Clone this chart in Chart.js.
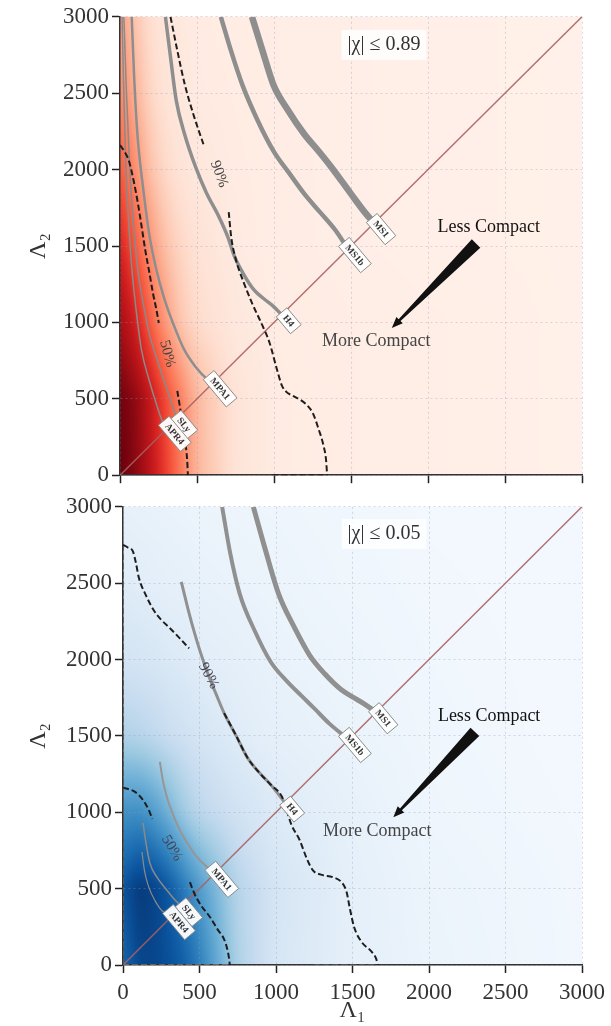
<!DOCTYPE html>
<html>
<head>
<meta charset="utf-8">
<script src="https://cdn.jsdelivr.net/npm/chart.js@4.4.1/dist/chart.umd.min.js"></script>
<style>
  body { margin: 0; background: #fff; width: 611px; height: 1026px; overflow: hidden; }
  .panel { position: absolute; left: 0; width: 611px; }
  #top { top: 0; height: 492px; }
  #bot { top: 490px; height: 536px; }
</style>
</head>
<body>
<div class="panel" id="top"><canvas id="chartHigh"></canvas></div>
<div class="panel" id="bot"><canvas id="chartLow"></canvas></div>
<script>
// axis ticks
const tickValues = [0, 500, 1000, 1500, 2000, 2500, 3000];

// posterior density grid (Lambda1 columns, Lambda2 rows)
const gridL1 = [0, 100, 200, 300, 400, 500, 750, 1000, 1500, 2000, 3000];
const gridL2 = [0, 500, 1000, 1500, 2000, 2500, 3000];
const densityHigh = [
  [1.00, 0.94, 0.80, 0.62, 0.44, 0.26, 0.10, 0.06, 0.045, 0.04, 0.03],
  [0.98, 0.93, 0.77, 0.58, 0.42, 0.25, 0.10, 0.06, 0.045, 0.04, 0.03],
  [0.88, 0.73, 0.52, 0.34, 0.20, 0.14, 0.08, 0.055, 0.045, 0.04, 0.03],
  [0.72, 0.54, 0.36, 0.22, 0.15, 0.11, 0.065, 0.05, 0.04, 0.035, 0.03],
  [0.56, 0.38, 0.22, 0.14, 0.10, 0.08, 0.06, 0.05, 0.04, 0.035, 0.03],
  [0.42, 0.27, 0.15, 0.10, 0.08, 0.065, 0.055, 0.045, 0.04, 0.035, 0.03],
  [0.34, 0.21, 0.12, 0.09, 0.07, 0.06, 0.05, 0.045, 0.04, 0.035, 0.03]
];
const densityLow = [
  [0.78, 0.92, 0.92, 0.88, 0.82, 0.70, 0.32, 0.16, 0.09, 0.06, 0.03],
  [0.85, 0.97, 0.93, 0.85, 0.72, 0.58, 0.30, 0.17, 0.09, 0.055, 0.03],
  [0.62, 0.64, 0.58, 0.48, 0.36, 0.28, 0.19, 0.13, 0.08, 0.045, 0.025],
  [0.32, 0.30, 0.27, 0.23, 0.20, 0.17, 0.12, 0.09, 0.06, 0.04, 0.02],
  [0.18, 0.17, 0.16, 0.14, 0.13, 0.11, 0.09, 0.07, 0.05, 0.035, 0.02],
  [0.12, 0.11, 0.10, 0.09, 0.085, 0.075, 0.065, 0.055, 0.04, 0.03, 0.02],
  [0.08, 0.075, 0.07, 0.065, 0.06, 0.055, 0.05, 0.045, 0.035, 0.025, 0.02]
];

// equal-mass line
const diagonal = [[0, 0], [3000, 3000]];

// EOS curves, high spin prior
const ms1High = [[857,3000],[925,2780],[996,2556],[1090,2390],[1197,2231],[1290,2120],[1374,2014],[1500,1841],[1590,1720],[1650,1650]];
const ms1bHigh = [[655,3000],[720,2780],[794,2556],[890,2330],[996,2123],[1100,1975],[1197,1841],[1300,1720],[1399,1603],[1480,1480]];
const h4High = [[295,3000],[330,2720],[366,2448],[420,2230],[492,2014],[560,1850],[643,1690],[700,1560],[744,1430],[800,1320],[870,1213],[940,1150],[996,1105],[1050,1050]];
const mpa1High = [[76,3000],[92,2600],[113,2231],[150,1880],[189,1581],[235,1350],[290,1148],[350,980],[416,823],[490,710],[567,628],[605,605]];
const slyHigh = [[25,3000],[42,2500],[63,2014],[85,1680],[113,1365],[150,1130],[189,931],[240,760],[290,606],[335,470],[370,370]];
const apr4High = [[13,3000],[25,2500],[38,2014],[55,1680],[76,1365],[105,1080],[139,823],[190,620],[240,455],[285,330],[310,310]];

// credible contours, high spin prior
const c90HighA = [[328,3000],[372,2780],[420,2560],[480,2350],[542,2166]];
const c90HighB = [[706,1722],[722,1560],[750,1420],[800,1270],[860,1120],[920,990],[970,870],[1017,700],[1050,590],[1080,545],[1124,519],[1212,461],[1255,400],[1290,300],[1320,200],[1338,100],[1345,0]];
const c90HighAxis = [[990,0],[1345,0]];
const c50HighA = [[0,2160],[28,2120],[60,2050],[90,1920],[113,1798],[140,1630],[164,1473],[190,1330],[214,1191],[235,1090],[252,996]];
const c50HighB = [[372,552],[392,430],[410,320],[426,200],[436,100],[441,0]];

// EOS curves, low spin prior
const ms1Low = [[852,3000],[930,2720],[1017,2430],[1120,2210],[1220,2028],[1320,1905],[1423,1805],[1500,1755],[1576,1710],[1655,1655]];
const ms1bLow = [[648,3000],[700,2700],[763,2430],[860,2190],[966,1984],[1069,1860],[1169,1760],[1260,1670],[1347,1582],[1470,1480]];
const h4Low = [[381,2509],[420,2350],[458,2207],[505,2050],[559,1895],[610,1770],[661,1649],[740,1500],[813,1358],[890,1260],[966,1180],[1060,1060]];
const mpa1Low = [[241,1330],[260,1210],[287,1098],[325,990],[372,882],[425,790],[483,706],[540,650],[600,600]];
const slyLow = [[131,930],[150,800],[176,667],[225,570],[287,490],[340,425],[385,385]];
const apr4Low = [[124,740],[140,620],[165,520],[210,420],[260,350],[320,320]];

// credible contours, low spin prior
const c90LowA = [[0,2750],[30,2735],[64,2710],[85,2630],[102,2542],[150,2420],[203,2319],[250,2260],[305,2207],[370,2140],[432,2073]];
const c90LowB = [[661,1649],[740,1500],[813,1358],[890,1260],[966,1180],[1040,1100],[1070,1013],[1100,920],[1155,817],[1200,700],[1240,621],[1300,590],[1370,575],[1430,540],[1461,480],[1481,379],[1510,250],[1560,150],[1627,85],[1655,40],[1665,0]];
const c90LowAxis = [[1250,0],[1665,0]];
const c90LowLeft = [[0,0],[0,2750]];
const c50LowA = [[0,1160],[40,1150],[76,1135],[115,1100],[153,1045],[175,1000],[191,956]];
const c50LowB = [[437,542],[470,460],[510,390],[568,314],[620,230],[660,170],[680,110],[692,50],[698,0]];
const c50LowAxis = [[0,0],[698,0]];
const c50LowLeft = [[0,0],[0,1160]];

const redStops = ['#fff5f0','#fee0d2','#fcbba1','#fc9272','#fb6a4a','#ef3b2c','#cb181d','#a50f15','#67000d'];
const blueStops = ['#f7fbff','#deebf7','#c6dbef','#9ecae1','#6baed6','#4292c6','#2171b5','#08519c','#08306b'];

const SERIF = "'Liberation Serif', 'DejaVu Serif', serif";

function hexRgb(h) {
  return [1, 3, 5].map((i) => parseInt(h.slice(i, i + 2), 16));
}

function colorAt(stops, t) {
  t = Math.max(0, Math.min(1, t));
  const n = stops.length - 1;
  const f = t * n;
  const i = Math.min(n - 1, Math.floor(f));
  const u = f - i;
  const a = stops[i], b = stops[i + 1];
  return [0, 1, 2].map((k) => a[k] + (b[k] - a[k]) * u);
}

function cell(g, v) {
  let i = 0;
  while (i < g.length - 2 && v > g[i + 1]) i++;
  const u = (v - g[i]) / (g[i + 1] - g[i]);
  return [i, Math.max(0, Math.min(1, u))];
}

function sample(values, vx, vy) {
  const [i, u] = cell(gridL1, vx);
  const [j, w] = cell(gridL2, vy);
  const a = values[j][i], b = values[j][i + 1];
  const c = values[j + 1][i], d = values[j + 1][i + 1];
  return (a * (1 - u) + b * u) * (1 - w) + (c * (1 - u) + d * u) * w;
}

// background density, drawn before the grid, softened with a blur
function makeHeatmap(values, stopsHex) {
  const stops = stopsHex.map(hexRgb);
  const M = 24;
  return {
    id: "heatmap",
    beforeDraw(chart) {
      const { ctx, chartArea: a, scales } = chart;
      const w = Math.round(a.right - a.left) + 2 * M;
      const h = Math.round(a.bottom - a.top) + 2 * M;
      const off = document.createElement("canvas");
      off.width = w;
      off.height = h;
      const octx = off.getContext("2d");
      const img = octx.createImageData(w, h);
      for (let py = 0; py < h; py++) {
        const vy = scales.y.getValueForPixel(a.top - M + py + 0.5);
        for (let px = 0; px < w; px++) {
          const vx = scales.x.getValueForPixel(a.left - M + px + 0.5);
          const c = colorAt(stops, sample(values, vx, vy));
          const k = (py * w + px) * 4;
          img.data[k] = c[0];
          img.data[k + 1] = c[1];
          img.data[k + 2] = c[2];
          img.data[k + 3] = 255;
        }
      }
      octx.putImageData(img, 0, 0);
      ctx.save();
      ctx.beginPath();
      ctx.rect(a.left, a.top, a.right - a.left, a.bottom - a.top);
      ctx.clip();
      ctx.filter = "blur(6px)";
      ctx.drawImage(off, a.left - M, a.top - M);
      ctx.restore();
    },
  };
}

// text, arrow and EOS tags
function makeOverlay(cfg) {
  return {
    id: "overlay",
    afterDatasetsDraw(chart) {
      const { ctx, scales: { x, y } } = chart;
      const P = (p) => [x.getPixelForValue(p[0]), y.getPixelForValue(p[1])];
      ctx.save();

      // spin box
      ctx.font = "20px " + SERIF;
      ctx.textAlign = "center";
      ctx.textBaseline = "middle";
      let [sx, sy] = P(cfg.spinAt);
      const tw = ctx.measureText(cfg.spin).width;
      ctx.fillStyle = "rgba(255,255,255,0.85)";
      ctx.fillRect(sx - tw / 2 - 6, sy - 15, tw + 12, 30);
      ctx.fillStyle = "#333";
      ctx.fillText(cfg.spin, sx, sy);

      // compactness text
      ctx.font = "18px " + SERIF;
      ctx.fillStyle = "#111";
      let p = P(cfg.lessAt);
      ctx.fillText("Less Compact", p[0], p[1]);
      ctx.fillStyle = "#444";
      p = P(cfg.moreAt);
      ctx.fillText("More Compact", p[0], p[1]);

      // tapered arrow
      const T = P(cfg.arrowFrom), E = P(cfg.arrowTo);
      const len = Math.hypot(E[0] - T[0], E[1] - T[1]);
      const d = [(E[0] - T[0]) / len, (E[1] - T[1]) / len];
      const n = [-d[1], d[0]];
      const H = [E[0] - d[0] * 11, E[1] - d[1] * 11];
      const pt = (b, s) => [b[0] + n[0] * s, b[1] + n[1] * s];
      const poly = [pt(T, 6), pt(H, 1.3), pt(H, 4.5), E, pt(H, -4.5), pt(H, -1.3), pt(T, -6)];
      ctx.beginPath();
      poly.forEach((q, i) => (i ? ctx.lineTo(q[0], q[1]) : ctx.moveTo(q[0], q[1])));
      ctx.closePath();
      ctx.fillStyle = "#111";
      ctx.fill();

      // contour level labels
      ctx.font = "15px " + SERIF;
      ctx.fillStyle = cfg.levelColor;
      cfg.levels.forEach((lv) => {
        const q = P(lv.at);
        ctx.save();
        ctx.translate(q[0], q[1]);
        ctx.rotate((lv.rot * Math.PI) / 180);
        ctx.fillText(lv.text, 0, 0);
        ctx.restore();
      });

      // EOS tags at the end of each curve
      ctx.font = "bold 9.5px " + SERIF;
      cfg.tags.forEach(([name, curve]) => {
        const q = P(curve[curve.length - 1]);
        ctx.save();
        ctx.translate(q[0] + 7, q[1] + 6);
        ctx.rotate((50 * Math.PI) / 180);
        const w = ctx.measureText(name).width + 10;
        ctx.fillStyle = "rgba(255,255,255,0.95)";
        ctx.strokeStyle = "#888";
        ctx.lineWidth = 0.9;
        ctx.fillRect(-w / 2, -7, w, 14);
        ctx.strokeRect(-w / 2, -7, w, 14);
        ctx.fillStyle = "#333";
        ctx.fillText(name, 0, 0.5);
        ctx.restore();
      });

      ctx.restore();
    },
  };
}

function pts(arr) {
  return arr.map(([a, b]) => ({ x: a, y: b }));
}

function line(data, color, width, dash, order, smooth = true) {
  return {
    data: pts(data),
    showLine: true,
    borderColor: color,
    borderWidth: width,
    borderDash: dash,
    pointRadius: 0,
    cubicInterpolationMode: smooth ? "monotone" : "default",
    tension: 0,
    order,
  };
}

const DASH = [6, 3];

function makeChart(id, o) {
  const axisCommon = {
    type: "linear",
    min: 0,
    max: 3000,
    afterBuildTicks: (s) => { s.ticks = tickValues.map((v) => ({ value: v })); },
    grid: {
      color: "rgba(150,150,185,0.35)",
      tickColor: "#222",
      tickLength: 8,
      tickWidth: 1.5,
      tickBorderDash: [],
    },
    border: { color: "#333", width: 1.5, dash: [2, 3] },
  };
  return new Chart(document.getElementById(id), {
    type: "scatter",
    data: { datasets: o.datasets },
    options: {
      responsive: true,
      maintainAspectRatio: false,
      animation: false,
      events: [],
      layout: { padding: o.padding },
      plugins: { legend: { display: false }, tooltip: { enabled: false } },
      scales: {
        x: {
          ...axisCommon,
          afterFit: (s) => { s.height = o.xHeight; },
          ticks: {
            display: o.showX,
            padding: 6,
            color: "#333",
            font: { family: SERIF, size: 23 },
            callback: (v) => String(v),
          },
          title: {
            display: o.showX,
            text: "Λ₁",
            color: "#333",
            font: { family: SERIF, size: 24 },
            padding: { top: 0, bottom: 1 },
          },
        },
        y: {
          ...axisCommon,
          afterFit: (s) => { s.width = o.yWidth; },
          ticks: {
            padding: 3,
            color: "#333",
            font: { family: SERIF, size: 23 },
            callback: (v) => String(v),
          },
          title: {
            display: true,
            text: "Λ₂",
            color: "#333",
            font: { family: SERIF, size: 24 },
            padding: { top: 24, bottom: 0 },
          },
        },
      },
    },
    plugins: [makeHeatmap(o.density, o.stops), makeOverlay(o.overlay)],
  });
}

const diagColor = "rgba(168,96,96,0.9)";
const dashColor = "#1e1e1e";

makeChart("chartHigh", {
  padding: { top: 16, right: 29, bottom: 0, left: 0 },
  xHeight: 14,
  yWidth: 120,
  showX: false,
  density: densityHigh,
  stops: redStops,
  datasets: [
    line(c90HighA, dashColor, 2, DASH, 0),
    line(c90HighB, dashColor, 2, DASH, 0),
    line(c90HighAxis, dashColor, 2, DASH, 0, false),
    line(c50HighA, dashColor, 2, DASH, 0),
    line(c50HighB, dashColor, 2, DASH, 0),
    line(ms1High, "#8e8e8e", 6.5, [], 3),
    line(ms1bHigh, "#8e8e8e", 4.5, [], 3),
    line(h4High, "#8e8e8e", 3.5, [], 3),
    line(mpa1High, "#8e8e8e", 2.5, [], 3),
    line(slyHigh, "#8a8a8a", 1.5, [], 3),
    line(apr4High, "#8a8a8a", 1.5, [], 3),
    line(diagonal, diagColor, 1.5, [], 6, false),
  ],
  overlay: {
    spin: "|χ| ≤ 0.89",
    spinAt: [1714, 2816],
    lessAt: [2395, 1624],
    moreAt: [1664, 877],
    arrowFrom: [2312, 1516],
    arrowTo: [1765, 964],
    levelColor: "#444",
    levels: [
      { text: "90%", at: [643, 1971], rot: 70 },
      { text: "50%", at: [307, 795], rot: 75 },
    ],
    tags: [["MS1", ms1High], ["MS1b", ms1bHigh], ["H4", h4High], ["MPA1", mpa1High], ["SLy", slyHigh], ["APR4", apr4High]],
  },
});

makeChart("chartLow", {
  padding: { top: 16, right: 28, bottom: 0, left: 0 },
  xHeight: 61,
  yWidth: 123,
  showX: true,
  density: densityLow,
  stops: blueStops,
  datasets: [
    line(c90LowA, dashColor, 2, DASH, 0),
    line(c90LowB, dashColor, 2, DASH, 0),
    line(c90LowAxis, "#555", 1.5, DASH, 0, false),
    line(c90LowLeft, "#555", 1.5, DASH, 0, false),
    line(c50LowA, dashColor, 2, DASH, 0),
    line(c50LowB, dashColor, 2, DASH, 0),
    line(c50LowAxis, "#777", 1.3, DASH, 0, false),
    line(c50LowLeft, "#777", 1.3, DASH, 0, false),
    line(ms1Low, "#909090", 5, [], 3),
    line(ms1bLow, "#909090", 4, [], 3),
    line(h4Low, "#909090", 3, [], 3),
    line(mpa1Low, "#969696", 2, [], 3),
    line(slyLow, "#8a8a8a", 1.5, [], 3),
    line(apr4Low, "#8a8a8a", 1.2, [], 3),
    line(diagonal, diagColor, 1.5, [], 6, false),
  ],
  overlay: {
    spin: "|χ| ≤ 0.05",
    spinAt: [1706, 2821],
    lessAt: [2393, 1626],
    moreAt: [1662, 878],
    arrowFrom: [2300, 1526],
    arrowTo: [1767, 967],
    levelColor: "#445",
    levels: [
      { text: "90%", at: [559, 1894], rot: 62 },
      { text: "50%", at: [319, 765], rot: 59 },
    ],
    tags: [["MS1", ms1Low], ["MS1b", ms1bLow], ["H4", h4Low], ["MPA1", mpa1Low], ["SLy", slyLow], ["APR4", apr4Low]],
  },
});
</script>
</body>
</html>
